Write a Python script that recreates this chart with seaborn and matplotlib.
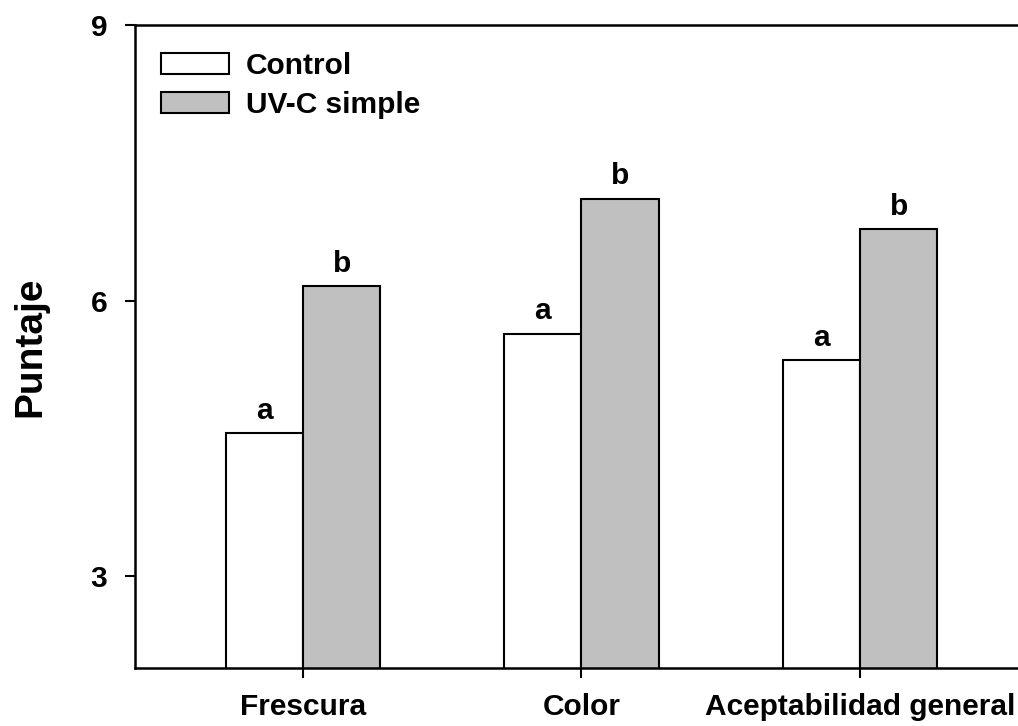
import pandas as pd
import seaborn as sns
import matplotlib.pyplot as plt

# --- Data ---

categories = ['Frescura', 'Color', 'Aceptabilidad general']
treatments = ['Control', 'UV-C simple']
control = [4.56, 5.64, 5.35]
uvc = [6.16, 7.11, 6.78]
letters_control = ['a', 'a', 'a']
letters_uvc = ['b', 'b', 'b']

df = pd.DataFrame({
    'categoria': categories * 2,
    'tratamiento': [treatments[0]] * 3 + [treatments[1]] * 3,
    'puntaje': control + uvc,
})

# --- Plot ---

sns.set_style('white')
plt.rcParams['font.family'] = ['Liberation Sans', 'DejaVu Sans']
plt.rcParams['font.weight'] = 'bold'
plt.rcParams['text.color'] = 'black'
plt.rcParams['axes.labelcolor'] = 'black'
plt.rcParams['xtick.color'] = 'black'
plt.rcParams['ytick.color'] = 'black'

fig = plt.figure(figsize=(10.18, 7.26), dpi=100)
ax = fig.add_axes([135 / 1018, 58 / 726, 0.875, 643 / 726])

sns.barplot(
    data=df, x='categoria', y='puntaje', hue='tratamiento',
    order=categories, hue_order=treatments,
    palette=['white', '#c0c0c0'], width=0.556,
    edgecolor='black', linewidth=1.5, saturation=1, ax=ax
)

ax.set_ylim(2, 9)
ax.set_xlim(-0.603, 2.595)
ax.set_yticks([3, 6, 9])
ax.set_yticklabels(['3', '6', '9'], fontsize=21.5, fontweight='bold')
ax.set_xticks(range(len(categories)))
ax.set_xticklabels(categories, fontsize=21.5, fontweight='bold')
ax.tick_params(axis='both', direction='out', length=7, width=1.5,
               colors='black', bottom=True, left=True)
ax.tick_params(axis='x', pad=11)
ax.tick_params(axis='y', pad=13)

ax.set_xlabel('')
ax.set_ylabel('Puntaje', fontsize=28, fontweight='bold', labelpad=30)

for side in ['left', 'bottom', 'top']:
    ax.spines[side].set_visible(True)
    ax.spines[side].set_color('black')
    ax.spines[side].set_linewidth(1.8)
ax.spines['right'].set_visible(False)

# significance letters
for cont, letters in zip(ax.containers, [letters_control, letters_uvc]):
    ax.bar_label(cont, labels=letters, padding=6, fontsize=21.5,
                 fontweight='bold', color='black')

leg = ax.legend(
    loc='upper left', bbox_to_anchor=(0.0155, 0.976), frameon=False,
    fontsize=21.5, handlelength=2.3, handleheight=0.7, handletextpad=0.55,
    labelspacing=0.35, borderaxespad=0
)
for t in leg.get_texts():
    t.set_fontweight('bold')
    t.set_color('black')

fig.savefig('out.png', dpi=100)
